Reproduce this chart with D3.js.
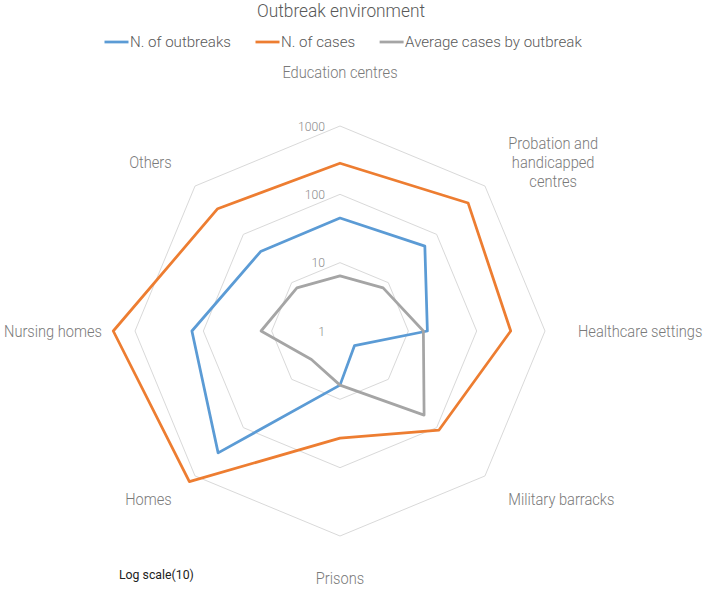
<!DOCTYPE html>
<html>
<head>
<meta charset="utf-8">
<script src="https://cdn.jsdelivr.net/npm/d3@7"></script>
<style>
  html, body { margin: 0; padding: 0; background: #fff; }
  svg { display: block; font-family: Roboto, "Liberation Sans", sans-serif; font-weight: 300; }
</style>
</head>
<body>
<svg id="chart" width="708" height="609"></svg>
<script>
const categories = ["Education centres", "Probation and handicapped centres", "Healthcare settings", "Military barracks", "Prisons", "Homes", "Nursing homes", "Others"];
const outbreaks = [45, 57, 19, 2, 6.2, 333, 147, 44];
const cases = [285, 447, 315, 112, 37, 1310, 2080, 340];
const averageCases = [6.4, 7.8, 16.6, 55, 6.2, 3.9, 14.3, 7.8];
const tickValues = [1, 10, 100, 1000];
const seriesNames = ["N. of outbreaks", "N. of cases", "Average cases by outbreak"];
const titleText = "Outbreak environment";
const noteText = "Log scale(10)";

const colors = ["#5B9BD5", "#ED7D31", "#A5A5A5"];
const series = [outbreaks, cases, averageCases].map((v, k) => ({ name: seriesNames[k], values: v, color: colors[k] }));

const svg = d3.select("#chart");
const cx = 340, cy = 331, R = 205;
const r = d3.scaleLog().domain([1, 1000]).range([0, R]);
const n = categories.length;
const ang = i => i * 2 * Math.PI / n;
const pt = (i, rad) => [cx + rad * Math.sin(ang(i)), cy - rad * Math.cos(ang(i))];

// width helpers to mimic the original typeface widths
function measure(str, size) {
  const p = svg.append("text").attr("font-size", size).text(str);
  const w = p.node().getComputedTextLength();
  p.remove();
  return w;
}
function condense(sel, k) {
  const w = sel.node().getComputedTextLength();
  sel.attr("textLength", w * k).attr("lengthAdjust", "spacingAndGlyphs");
  return w * k;
}
const LABEL_SIZE = 16.4, TITLE_SIZE = 18, LEGEND_SIZE = 14, TICK_SIZE = 13, NOTE_SIZE = 13;
const labelK = 98 / measure("Nursing homes", LABEL_SIZE);
const titleK = 168 / measure(titleText, TITLE_SIZE);
const legendK = 101 / measure(seriesNames[0], LEGEND_SIZE);
const tickK = 27 / measure("1000", TICK_SIZE);
const noteK = 73 / measure(noteText, NOTE_SIZE);

// grid octagons
const g = svg.append("g");
tickValues.slice(1).forEach(t => {
  const pts = d3.range(n).map(i => pt(i, r(t)));
  g.append("path")
    .attr("d", d3.line()(pts) + "Z")
    .attr("fill", "none")
    .attr("stroke", "#d9d9d9")
    .attr("stroke-width", 1);
});

// series
const radial = d3.lineRadial()
  .angle((d, i) => ang(i))
  .radius(d => r(d))
  .curve(d3.curveLinearClosed);
series.forEach(s => {
  svg.append("path")
    .attr("transform", `translate(${cx},${cy})`)
    .attr("d", radial(s.values))
    .attr("fill", "none")
    .attr("stroke", s.color)
    .attr("stroke-width", 2.75)
    .attr("stroke-linejoin", "round");
});

// tick labels
tickValues.forEach(t => {
  const tt = svg.append("text")
    .attr("x", cx - 15)
    .attr("y", cy - r(t))
    .attr("dy", "0.35em")
    .attr("text-anchor", "end")
    .attr("fill", "#8c8c8c")
    .attr("font-size", TICK_SIZE)
    .text(t);
  condense(tt, tickK);
});

// axis labels
const labelR = 238;
categories.forEach((c, i) => {
  const s = Math.sin(ang(i)), co = Math.cos(ang(i));
  if (Math.abs(s) < 0.1) {
    const t = svg.append("text").attr("fill", "#7a7a7a").attr("font-size", LABEL_SIZE)
      .attr("x", cx).attr("y", cy - co * 253).attr("text-anchor", "middle").text(c);
    condense(t, labelK);
    return;
  }
  const [px, py] = pt(i, labelR);
  const words = c.split(" ");
  const maxW = 112;
  let lines = [], cur = "";
  words.forEach(w => {
    const test = cur ? cur + " " + w : w;
    if (measure(test, LABEL_SIZE) * labelK > maxW && cur && Math.abs(co) > 0.1) { lines.push(cur); cur = w; }
    else cur = test;
  });
  lines.push(cur);
  const lh = 19;
  const widths = lines.map(l => measure(l, LABEL_SIZE) * labelK);
  const bw = d3.max(widths);
  const centerX = s > 0 ? px + bw / 2 : px - bw / 2;
  const y0 = py - (lines.length - 1) * lh / 2;
  lines.forEach((l, k) => {
    const t = svg.append("text").attr("fill", "#7a7a7a").attr("font-size", LABEL_SIZE)
      .attr("x", centerX).attr("y", y0 + k * lh).attr("dy", "0.35em").attr("text-anchor", "middle").text(l);
    condense(t, labelK);
  });
});

// title
const title = svg.append("text")
  .attr("x", 341).attr("y", 17)
  .attr("text-anchor", "middle")
  .attr("fill", "#595959")
  .attr("font-size", TITLE_SIZE)
  .text(titleText);
condense(title, titleK);

// legend
const lg = svg.append("g");
let lx = 104.5;
series.forEach(s => {
  lg.append("line").attr("x1", lx).attr("x2", lx + 24).attr("y1", 42).attr("y2", 42)
    .attr("stroke", s.color).attr("stroke-width", 2.75);
  const tt = lg.append("text").attr("x", lx + 25.5).attr("y", 47).attr("fill", "#595959").attr("font-size", LEGEND_SIZE).text(s.name);
  const w = condense(tt, legendK);
  lx += 25.5 + w + 24.5;
});

// note
const note = svg.append("text")
  .attr("x", 119).attr("y", 579)
  .attr("fill", "#222")
  .attr("font-size", NOTE_SIZE)
  .attr("font-weight", 400)
  .text(noteText);
condense(note, noteK);
</script>
</body>
</html>
